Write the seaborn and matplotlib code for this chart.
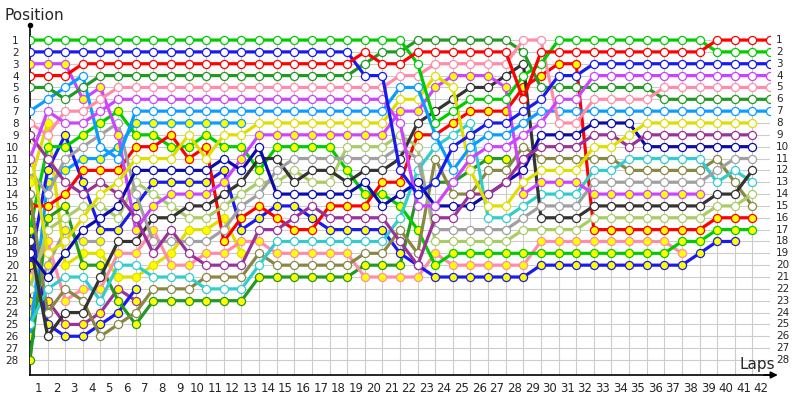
import matplotlib
matplotlib.use("Agg")
import matplotlib.pyplot as plt
import seaborn as sns
import pandas as pd

N = None
laps = list(range(43))          # column 0 = start, 1..42 = laps
lap_labels = [str(k) for k in range(1, 43)]
rows_labels = [str(k) for k in range(1, 29)]

# position of every car at each lap (None = not running)
green_o = [1,1,1,1,1,1,1,1,1,1, 1,1,1,1,1,1,1,1,1,1, 1,1,3,8,7,6,6,6,4,3, 1,1,1,1,1,1,1,1,1,2, 2,2,2]
blue_o = [2,2,2,2,2,2,2,2,2,2, 2,2,2,2,2,2,2,2,2,4, 4,12,14,13,10,9,8,8,7,6, 4,4,3,3,3,3,3,3,3,3, 3,3,3]
violet_y = [3,3,3,6,5,9,17,15,14,14, 14,13,11,9,9,9,9,9,9,9, 9,7,7,5,4,4,4,5,14,13, 13,13,14,14,14,14,14,14,14,N, N,N,N]
red_o = [4,4,4,3,3,3,3,3,3,3, 3,3,3,3,3,3,3,3,3,2, 3,3,2,2,2,2,2,2,6,2, 2,2,2,2,2,2,2,2,2,1, 1,1,1]
dkgreen_o = [5,5,6,5,4,4,4,4,4,4, 4,4,4,4,4,4,4,4,4,3, 2,2,1,1,1,1,1,1,2,5, 5,5,5,5,5,5,6,6,6,6, 6,6,6]
ltblue_o = [7,6,5,4,10,11,7,7,7,7, 7,7,7,7,7,7,7,7,7,7, 7,5,5,9,12,10,9,9,8,7, 7,7,7,7,7,7,7,7,7,7, 7,7,7]
pink_o = [8,9,7,7,6,5,5,5,5,5, 5,5,5,5,5,5,5,5,5,5, 5,4,4,3,3,3,3,3,1,1, 8,8,6,6,6,6,5,5,5,5, 5,5,5]
violet_o = [11,7,8,8,7,6,6,6,6,6, 6,6,6,6,6,6,6,6,6,6, 6,8,15,15,13,11,10,10,9,8, 6,6,4,4,4,4,4,4,4,4, 4,4,4]
yellow_o = [10,19,18,16,14,13,11,11,11,9, 11,9,9,8,8,8,8,8,8,8, 8,6,6,4,5,12,15,15,13,12, 12,12,10,10,9,8,8,8,8,8, 8,8,N]
black_o = [18,26,24,24,21,18,18,16,16,15, 15,14,13,11,11,13,12,12,13,12, 12,11,8,7,6,5,5,4,3,16, 16,16,15,15,15,15,15,15,15,14, 14,12,N]
gray_o = [12,14,11,10,9,8,14,18,18,18, 18,17,15,14,12,11,11,11,11,11, 11,10,11,17,17,17,17,17,16,15, 15,15,13,13,13,13,13,13,13,12, 11,11,N]
ltgreen_o = [22,17,16,15,15,16,13,14,15,16, 16,15,14,13,13,12,13,13,10,10, 10,9,10,18,18,18,18,18,17,17, 17,17,16,16,16,16,16,16,16,15, 15,14,N]
green_y = [17,10,10,9,8,7,9,9,10,10, 9,10,10,12,10,10,10,10,12,14, 14,15,17,20,19,19,19,19,19,19, 19,19,19,19,19,19,19,18,18,17, 17,17,N]
red_y = [15,15,14,12,12,12,10,10,9,11, 10,18,16,15,16,17,17,15,15,15, 13,13,9,9,8,7,7,7,5,4, 3,3,17,17,17,17,17,17,17,16, 16,16,N]
dkblue_o = [19,21,19,17,16,15,12,12,12,12, 12,11,12,10,14,14,14,14,14,13, 15,14,13,15,15,15,14,13,12,9, 9,9,8,8,8,10,10,10,10,10, 10,10,N]
blue_y = [20,12,9,13,17,17,15,13,13,13, 13,12,17,16,15,15,16,17,17,17, 17,19,20,21,21,21,21,21,21,20, 20,20,20,20,20,20,20,20,19,18, 18,N,N]
dkpurple_o = [9,11,13,14,13,14,16,19,17,19, 20,20,20,17,17,16,15,16,16,16, 16,18,20,16,16,14,14,13,11,10, 10,10,9,9,10,9,9,9,9,9, 9,9,N]
cyan_o = [25,22,21,21,23,20,20,21,21,21, 22,22,22,20,18,18,18,18,18,18, 18,16,12,10,9,8,16,16,15,14, 14,14,12,12,11,11,11,11,11,13, 12,13,N]
olive_o = [14,24,22,23,26,25,24,22,22,22, 21,21,21,19,20,20,20,20,20,19, 19,17,19,11,14,14,12,12,10,11, 11,11,11,11,12,12,12,12,12,11, 13,15,N]
pink_y = [21,18,23,22,22,19,19,17,20,20, 19,19,18,18,19,19,19,19,19,21, 21,21,21,19,20,20,20,20,20,18, 18,18,18,18,18,18,18,19,N,N, N,N,N]
dkgreen_y = [28,16,15,20,20,23,25,23,23,23, 23,23,23,21,21,21,21,21,21,20, 20,20,14,13,13,12,11,11,N,N, N,N,N,N,N,N,N,N,N,N, N,N,N]
yellow_y = [13,8,20,19,19,21,21,20,19,17, 17,16,19,N,N,N,N,N,N,N, N,N,N,N,N,N,N,N,N,N, N,N,N,N,N,N,N,N,N,N, N,N,N]
ltblue_y = [26,13,12,11,11,10,8,8,8,8, 8,8,8,N,N,N,N,N,N,N, N,N,N,N,N,N,N,N,N,N, N,N,N,N,N,N,N,N,N,N, N,N,N]
gray_y = [24,20,17,18,18,N,N,N,N,N, N,N,N,N,N,N,N,N,N,N, N,N,N,N,N,N,N,N,N,N, N,N,N,N,N,N,N,N,N,N, N,N,N]
blue2_y = [16,25,26,26,25,24,22,N,N,N, N,N,N,N,N,N,N,N,N,N, N,N,N,N,N,N,N,N,N,N, N,N,N,N,N,N,N,N,N,N, N,N,N]
dkpurple_y = [23,23,25,25,24,22,23,N,N,N, N,N,N,N,N,N,N,N,N,N, N,N,N,N,N,N,N,N,N,N, N,N,N,N,N,N,N,N,N,N, N,N,N]

W, YF = "white", "#ffff00"
cars = [
    ("dkpurple_y", "#993399", YF, dkpurple_y),
    ("blue2_y", "#1a1aee", YF, blue2_y),
    ("gray_y", "#a0a0a0", YF, gray_y),
    ("ltblue_y", "#0a9cff", YF, ltblue_y),
    ("yellow_y", "#dede00", YF, yellow_y),
    ("dkgreen_y", "#229922", YF, dkgreen_y),
    ("pink_y", "#ff8ca8", YF, pink_y),
    ("blue_y", "#1a1aee", YF, blue_y),
    ("green_y", "#00cc00", YF, green_y),
    ("red_y", "#ff0000", YF, red_y),
    ("olive_o", "#888844", W, olive_o),
    ("ltgreen_o", "#aacc66", W, ltgreen_o),
    ("cyan_o", "#33cccc", W, cyan_o),
    ("black_o", "#333333", W, black_o),
    ("gray_o", "#a0a0a0", W, gray_o),
    ("violet_y", "#cc44ff", YF, violet_y),
    ("dkblue_o", "#0c0caa", W, dkblue_o),
    ("dkpurple_o", "#993399", W, dkpurple_o),
    ("yellow_o", "#dede00", W, yellow_o),
    ("ltblue_o", "#0a9cff", W, ltblue_o),
    ("dkgreen_o", "#229922", W, dkgreen_o),
    ("pink_o", "#ff8ca8", W, pink_o),
    ("violet_o", "#cc44ff", W, violet_o),
    ("blue_o", "#1a1aee", W, blue_o),
    ("green_o", "#00cc00", W, green_o),
    ("red_o", "#ff0000", W, red_o),
]

recs = []
for name, col, fill, pos in cars:
    for lap, p in zip(laps, pos):
        if p is not None:
            recs.append({"car": name, "lap": lap, "pos": p})
df = pd.DataFrame(recs)

sns.set_style("white")
fig = plt.figure(figsize=(8, 4), dpi=100)
ax = fig.add_axes([0.0375, 0.0625, 0.925, 0.875])
ybot, ytop = 29.27, -0.27

# grid
ax.vlines(range(1, 43), 1, ybot, color="#cccccc", lw=0.8, zorder=0)
ax.hlines(range(1, 29), 0, 42, color="#cccccc", lw=0.8, zorder=0)

z = 2
for name, col, fill, pos in cars:
    d = df[df.car == name]
    sns.lineplot(data=d, x="lap", y="pos", color=col, lw=2.3, ax=ax,
                 estimator=None, sort=False, legend=False, zorder=z)
    sns.scatterplot(data=d, x="lap", y="pos", color=fill, edgecolor=col,
                    linewidth=0.9, s=34, ax=ax, legend=False, zorder=z + 1)
    z += 2

ax.set_xlim(0, 42)
ax.set_ylim(ybot, ytop)
ax.set_xlabel("")
ax.set_ylabel("")

ax.set_xticks([k - 0.5 for k in range(1, 43)])
ax.set_xticklabels(lap_labels, fontsize=8.5)
ax.set_yticks(range(1, 29))
ax.set_yticklabels(rows_labels, fontsize=7.5)
ax.tick_params(axis="x", length=0, pad=5)
ax.tick_params(axis="y", length=0, pad=8)
for i, lab in enumerate(rows_labels):
    ax.text(42.35, i + 1, lab, fontsize=7.5, ha="left", va="center")

for s in ["top", "right"]:
    ax.spines[s].set_visible(False)
for s in ["left", "bottom"]:
    ax.spines[s].set_color("black")
    ax.spines[s].set_linewidth(1.2)
ax.plot(0, ytop, "o", color="black", ms=3, clip_on=False)
ax.annotate("", xy=(42.6, ybot), xytext=(41.5, ybot), xycoords="data",
            arrowprops=dict(arrowstyle="-|>", color="black", lw=1.2), annotation_clip=False)

fig.text(5 / 800, 1 - 15 / 400, "Position", fontsize=11, va="center", ha="left")
fig.text(775 / 800, 1 - 365 / 400, "Laps", fontsize=11, va="center", ha="right")

fig.savefig("out.png", dpi=100)
